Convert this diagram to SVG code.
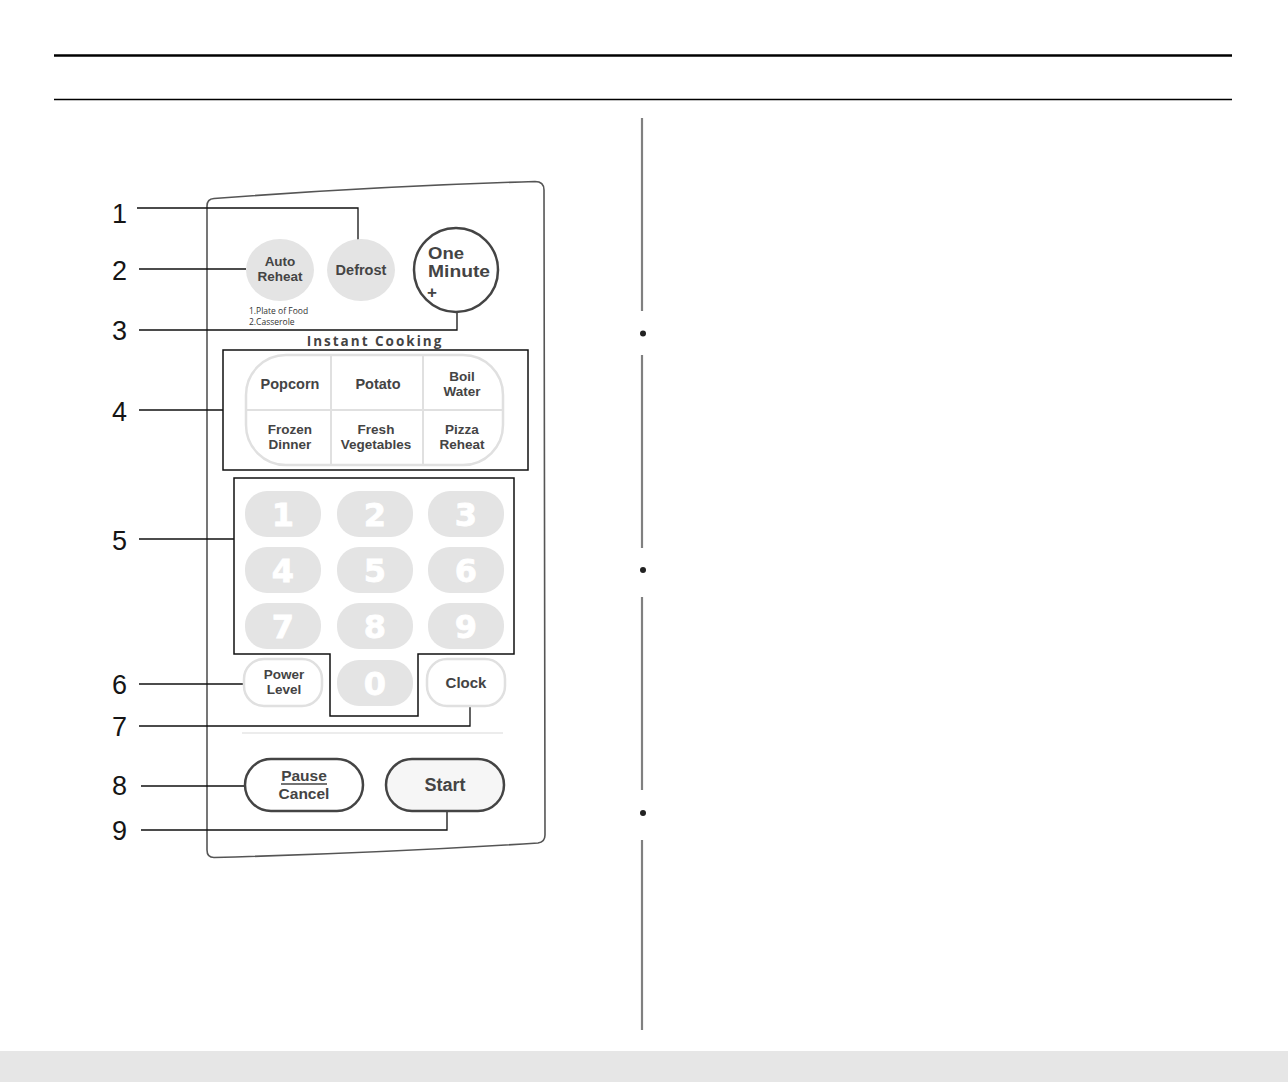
<svg xmlns="http://www.w3.org/2000/svg" width="1288" height="1082" viewBox="0 0 1288 1082">
<style>
.num{font-family:"Liberation Sans",Arial,sans-serif;font-size:27px;fill:#151515}
.lead{fill:none;stroke:#111;stroke-width:1.3}
.btxt{font-family:"Liberation Sans",Arial,sans-serif;font-weight:700;font-size:13.5px;fill:#444;text-anchor:middle}
.key{fill:#e4e4e4}
.ktxt{font-family:"DejaVu Sans","Liberation Sans",sans-serif;font-weight:700;font-size:32px;fill:#fff;stroke:#fff;stroke-width:0.8;text-anchor:middle}
.soft{fill:#fff;stroke:#e0e0e0;stroke-width:2.5}
.hard{stroke:#444;stroke-width:2.5}
.div{stroke:#808080;stroke-width:2.2}
</style>
<rect width="1288" height="1082" fill="#fff"/>
<g id="header">
<line x1="54" y1="55.5" x2="1232" y2="55.5" stroke="#000" stroke-width="2.6"/>
<line x1="54" y1="99.5" x2="1232" y2="99.5" stroke="#000" stroke-width="1.5"/>
</g>
<g id="divider">
<line class="div" x1="642" y1="118" x2="642" y2="311"/>
<line class="div" x1="642" y1="355" x2="642" y2="548"/>
<line class="div" x1="642" y1="597" x2="642" y2="790"/>
<line class="div" x1="642" y1="840" x2="642" y2="1030"/>
<circle cx="643" cy="333.5" r="3" fill="#222"/>
<circle cx="643" cy="570" r="3" fill="#222"/>
<circle cx="643" cy="813" r="3" fill="#222"/>
</g>
<rect id="footer" x="0" y="1051" width="1288" height="31" fill="#e6e6e6"/>
<g id="panel">
<path d="M207,206 Q207,199 214,198.5 Q380,186 535,181.5 Q544,181.5 544,190 L545,835 Q545,842 538,843 Q380,853 214,857.5 Q207,857.5 207,850 Z" fill="none" stroke="#555" stroke-width="1.6"/>
<line x1="242" y1="733" x2="503" y2="733" stroke="#e6e6e6" stroke-width="1.5"/>
</g>
<g id="connectors">
<polyline class="lead" points="137,208 358,208 358,240"/>
<polyline class="lead" points="139,269 246,269"/>
<polyline class="lead" points="139,330 457,330 457,312"/>
<polyline class="lead" points="139,410 223,410"/>
<polyline class="lead" points="139,539 234,539"/>
<polyline class="lead" points="139,684 244,684"/>
<polyline class="lead" points="139,726 470,726 470,706"/>
<polyline class="lead" points="141,786 245,786"/>
<polyline class="lead" points="141,830 447,830 447,811"/>
</g>
<g id="labels">
<text class="num" x="112" y="223">1</text>
<text class="num" x="112" y="280">2</text>
<text class="num" x="112" y="340">3</text>
<text class="num" x="112" y="421">4</text>
<text class="num" x="112" y="550">5</text>
<text class="num" x="112" y="694">6</text>
<text class="num" x="112" y="736">7</text>
<text class="num" x="112" y="795">8</text>
<text class="num" x="112" y="840">9</text>
</g>
<g id="auto-reheat">
<ellipse cx="280" cy="270" rx="34" ry="31" fill="#e4e4e4"/>
<text class="btxt" x="280" y="266">Auto</text>
<text class="btxt" x="280" y="281">Reheat</text>
<text x="249" y="314" font-family="'Open Sans','Noto Sans',sans-serif" font-size="8.5" fill="#333">1.Plate of Food</text>
<text x="249" y="325" font-family="'Open Sans','Noto Sans',sans-serif" font-size="8.5" fill="#333">2.Casserole</text>
</g>
<g id="defrost">
<ellipse cx="361" cy="270" rx="34" ry="31" fill="#e4e4e4"/>
<text class="btxt" x="361" y="275" style="font-size:14.5px">Defrost</text>
</g>
<g id="one-minute">
<circle cx="456" cy="270" r="42" fill="#fff" class="hard"/>
<text class="btxt" x="428" y="258.5" style="text-anchor:start;font-size:16px" textLength="36" lengthAdjust="spacingAndGlyphs">One</text>
<text class="btxt" x="428" y="276.5" style="text-anchor:start;font-size:16px" textLength="62" lengthAdjust="spacingAndGlyphs">Minute</text>
<text class="btxt" x="427" y="298" style="text-anchor:start;font-size:17px">+</text>
</g>
<g id="instant-cooking">
<text x="375" y="346" font-family="'Open Sans','Noto Sans',sans-serif" font-weight="700" font-size="13.5" letter-spacing="2" fill="#444" text-anchor="middle">Instant Cooking</text>
<rect x="223" y="350" width="305" height="120" fill="none" stroke="#111" stroke-width="1.5"/>
<rect x="246" y="355" width="257" height="110" rx="40" class="soft"/>
<line x1="331" y1="356" x2="331" y2="464" stroke="#e0e0e0" stroke-width="2"/>
<line x1="423" y1="356" x2="423" y2="464" stroke="#e0e0e0" stroke-width="2"/>
<line x1="247" y1="410" x2="502" y2="410" stroke="#e0e0e0" stroke-width="2"/>
<text class="btxt" x="290" y="389" style="font-size:14.5px">Popcorn</text>
<text class="btxt" x="378" y="389" style="font-size:14.5px">Potato</text>
<text class="btxt" x="462" y="381">Boil</text>
<text class="btxt" x="462" y="396">Water</text>
<text class="btxt" x="290" y="434">Frozen</text>
<text class="btxt" x="290" y="449">Dinner</text>
<text class="btxt" x="376" y="434">Fresh</text>
<text class="btxt" x="376" y="449">Vegetables</text>
<text class="btxt" x="462" y="434">Pizza</text>
<text class="btxt" x="462" y="449">Reheat</text>
</g>
<g id="keypad">
<polygon points="234,478 514,478 514,654 418,654 418,716 330,716 330,654 234,654" fill="none" stroke="#111" stroke-width="1.5"/>
<rect class="key" x="245" y="491" width="76" height="46" rx="22"/>
<rect class="key" x="337" y="491" width="76" height="46" rx="22"/>
<rect class="key" x="428" y="491" width="76" height="46" rx="22"/>
<rect class="key" x="245" y="547" width="76" height="46" rx="22"/>
<rect class="key" x="337" y="547" width="76" height="46" rx="22"/>
<rect class="key" x="428" y="547" width="76" height="46" rx="22"/>
<rect class="key" x="245" y="603" width="76" height="46" rx="22"/>
<rect class="key" x="337" y="603" width="76" height="46" rx="22"/>
<rect class="key" x="428" y="603" width="76" height="46" rx="22"/>
<rect class="key" x="337" y="660" width="76" height="46" rx="22"/>
<text class="ktxt" x="283" y="526">1</text>
<text class="ktxt" x="375" y="526">2</text>
<text class="ktxt" x="466" y="526">3</text>
<text class="ktxt" x="283" y="582">4</text>
<text class="ktxt" x="375" y="582">5</text>
<text class="ktxt" x="466" y="582">6</text>
<text class="ktxt" x="283" y="638">7</text>
<text class="ktxt" x="375" y="638">8</text>
<text class="ktxt" x="466" y="638">9</text>
<text class="ktxt" x="375" y="695">0</text>
</g>
<g id="power-level">
<rect class="soft" x="244" y="659" width="78" height="47" rx="20"/>
<text class="btxt" x="284" y="679">Power</text>
<text class="btxt" x="284" y="694">Level</text>
</g>
<g id="clock">
<rect class="soft" x="427" y="659" width="78" height="47" rx="20"/>
<text class="btxt" x="466" y="688" style="font-size:15px">Clock</text>
</g>
<g id="pause-cancel">
<rect class="hard" x="245" y="759" width="118" height="52" rx="26" fill="#fff"/>
<text class="btxt" x="304" y="780.5" style="font-size:15.5px">Pause</text>
<line x1="281" y1="784" x2="327" y2="784" stroke="#444" stroke-width="1.3"/>
<text class="btxt" x="304" y="799" style="font-size:15.5px">Cancel</text>
</g>
<g id="start">
<rect class="hard" x="386" y="759" width="118" height="52" rx="26" fill="#f6f6f6"/>
<text class="btxt" x="445" y="791" style="font-size:18px">Start</text>
</g>
</svg>
